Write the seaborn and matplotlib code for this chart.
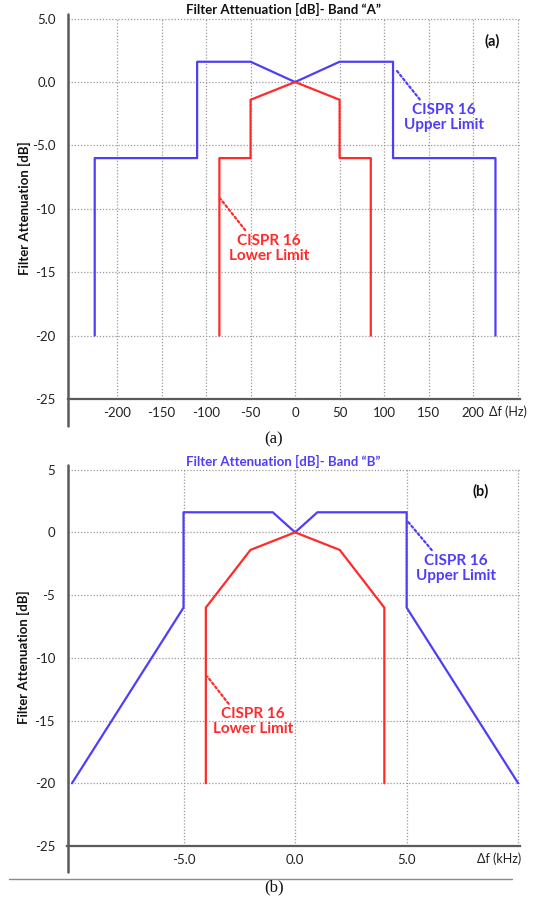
import matplotlib
matplotlib.use("Agg")
import matplotlib.pyplot as plt
from matplotlib.lines import Line2D
import matplotlib.transforms as mtransforms
import seaborn as sns
import pandas as pd

# ---------------- data ----------------
band_a_upper_f = [-225, -225, -110, -110, -50, 0, 50, 110, 110, 225, 225]
band_a_upper_db = [-20, -6, -6, 1.6, 1.6, 0, 1.6, 1.6, -6, -6, -20]
band_a_lower_f = [-85, -85, -50, -50, 0, 50, 50, 85, 85]
band_a_lower_db = [-20, -6, -6, -1.4, 0, -1.4, -6, -6, -20]

band_b_upper_f = [-10, -5, -5, -1, 0, 1, 5, 5, 10]
band_b_upper_db = [-20, -6, 1.6, 1.6, 0, 1.6, 1.6, -6, -20]
band_b_lower_f = [-4, -4, -2, 0, 2, 4, 4]
band_b_lower_db = [-20, -6, -1.4, 0, -1.4, -6, -20]

y_ticks = [-25, -20, -15, -10, -5, 0, 5]
y_labels_a = ["-25", "-20", "-15", "-10", "-5.0", "0.0", "5.0"]
y_labels_b = ["-25", "-20", "-15", "-10", "-5", "0", "5"]
x_ticks_a = [-200, -150, -100, -50, 0, 50, 100, 150, 200, 250]
x_labels_a = ["-200", "-150", "-100", "-50", "0", "50", "100", "150", "200", ""]
x_ticks_b = [-5, 0, 5, 10]
x_labels_b = ["-5.0", "0.0", "5.0", ""]

BLUE = "#4f3dfa"
RED = "#ff2a2a"
SPINE = "#5a5a5a"
FONT = ["Lato", "DejaVu Sans"]

sns.set_theme(style="white")
plt.rcParams["font.family"] = FONT

fig = plt.figure(figsize=(5.48, 9.05), dpi=100)
W, H = 548.0, 905.0
ax_a = fig.add_axes([68 / W, 1 - 399 / H, 451.5 / W, 381 / H])
ax_b = fig.add_axes([67.5 / W, 1 - 846 / H, 452.5 / W, 377 / H])


def style(ax, xlim, xticks, xlabels, ylabels, unit_label, unit_x, panel, panel_xy):
    ax.set_xlim(*xlim)
    ax.set_ylim(-25, 5.05)
    ax.set_yticks(y_ticks)
    ax.set_yticklabels(ylabels)
    ax.set_xticks(xticks)
    ax.set_xticklabels(xlabels)
    ax.tick_params(axis="both", length=0, labelsize=9.5, colors="#222222")
    ax.tick_params(axis="y", pad=9)
    ax.tick_params(axis="x", pad=6)
    ax.grid(True, color="#9a9a9a", linestyle=(0, (1, 1.5)), linewidth=0.9)
    for s in ["top", "right"]:
        ax.spines[s].set_visible(False)
    ax.spines["left"].set_visible(False)
    ax.spines["bottom"].set_color(SPINE)
    ax.spines["bottom"].set_linewidth(1.6)
    ax.set_xlabel("")
    ax.set_ylabel("Filter Attenuation [dB]", fontsize=9.5, fontweight="bold", color="#111111")
    ax.yaxis.set_label_coords(-0.082, 0.5)
    # left axis line, extended below the plot area as in the reference
    ax.add_line(Line2D([0, 0], [-0.07, 1.01], transform=ax.transAxes, color=SPINE,
                       linewidth=1.8, clip_on=False))
    trans = mtransforms.blended_transform_factory(ax.transData, ax.transAxes)
    ax.text(unit_x, -0.033, unit_label, transform=trans, ha="left", va="center",
            fontsize=9, color="#222222", family=FONT)
    ax.text(panel_xy[0], panel_xy[1], panel, transform=ax.transAxes, ha="center",
            va="center", fontsize=10.5, fontweight="bold", color="#111111")


def limit_line(ax, f, db, color):
    df = pd.DataFrame({"f": f, "db": db})
    sns.lineplot(data=df, x="f", y="db", sort=False, estimator=None, color=color,
                 linewidth=1.6, ax=ax)


def label(ax, text, xy, xytext, color):
    ax.annotate(text, xy=xy, xytext=xytext, ha="center", va="center", fontsize=11,
                fontweight="bold", color=color, linespacing=1.1,
                arrowprops=dict(arrowstyle="-", linestyle=(0, (1, 1.2)), color=color,
                                linewidth=1.6, shrinkA=0, shrinkB=0, relpos=(0.2, 1.12)))


# ---------------- panel A ----------------
limit_line(ax_a, band_a_upper_f, band_a_upper_db, BLUE)
limit_line(ax_a, band_a_lower_f, band_a_lower_db, RED)
style(ax_a, (-255, 252), x_ticks_a, x_labels_a, y_labels_a, "\u0394f (Hz)", 218,
      "(a)", (0.939, 0.94))
label(ax_a, "CISPR 16\nUpper Limit", (113, 1.0), (167, -2.8), BLUE)
label(ax_a, "CISPR 16\nLower Limit", (-84, -9.2), (-29, -13.1), RED)

# ---------------- panel B ----------------
limit_line(ax_b, band_b_upper_f, band_b_upper_db, BLUE)
limit_line(ax_b, band_b_lower_f, band_b_lower_db, RED)
style(ax_b, (-10.2, 10.08), x_ticks_b, x_labels_b, y_labels_b, "\u0394f (kHz)", 8.15,
      "(b)", (0.912, 0.942))
label(ax_b, "CISPR 16\nUpper Limit", (5.05, 0.87), (7.2, -2.85), BLUE)
label(ax_b, "CISPR 16\nLower Limit", (-3.93, -11.5), (-1.9, -15.1), RED)

# ---------------- titles and captions ----------------
fig.text(283 / W, 1 - 9 / H, "Filter Attenuation [dB]- Band \u201cA\u201d", ha="center",
         va="center", fontsize=9.5, fontweight="bold", color="#111111")
fig.text(283 / W, 1 - 461 / H, "Filter Attenuation [dB]- Band \u201cB\u201d", ha="center",
         va="center", fontsize=9.5, fontweight="bold", color=BLUE)
fig.text(274 / W, 1 - 439 / H, "(a)", ha="center", va="center", fontsize=12,
         family=["Liberation Serif", "DejaVu Serif"], color="#111111")
fig.text(274 / W, 1 - 887 / H, "(b)", ha="center", va="center", fontsize=12,
         family=["Liberation Serif", "DejaVu Serif"], color="#111111")
fig.add_artist(Line2D([9 / W, 512 / W], [1 - 879 / H, 1 - 879 / H], color="#8a8a8a",
                      linewidth=1.0))

fig.savefig("out.png", dpi=100)
